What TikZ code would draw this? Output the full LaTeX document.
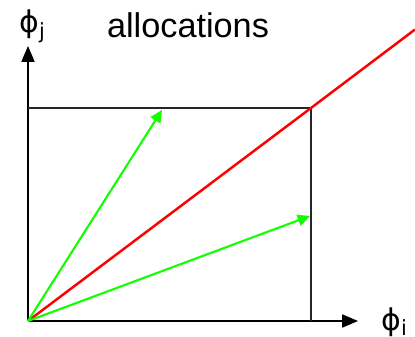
\documentclass[tikz,border=0pt]{standalone}
\usepackage{fontspec}
\setmainfont{Liberation Sans}
\newfontfamily\phifont{DejaVu Sans}
\usetikzlibrary{arrows.meta, positioning}

\begin{document}
\begin{tikzpicture}[
    x=0.02cm, y=-0.02cm,
    axis/.style={-{Triangle[length=9pt, width=7.5pt]}, line width=0.6pt, black},
    frame/.style={line width=0.7pt, black!85},
    share/.style={-{Triangle[length=7pt, width=6.5pt]}, line width=1.2pt, green!90!lime},
    fair/.style={line width=1.4pt, red},
    lbl/.style={font=\fontsize{19.5}{22}\selectfont, inner sep=0pt},
    phi/.style={font=\phifont\fontsize{17}{20}\selectfont, inner sep=0pt}
]
\useasboundingbox (0,0) rectangle (415,337);

% Axes
\coordinate (o) at (28,321);
\coordinate (xend) at (358,321);
\coordinate (yend) at (28,46);
\draw[axis] (o) -- (xend);
\draw[axis] (o) -- (yend);
\node[phi, anchor=base west] (phii) at (381,330) {ϕ\textsubscript{i}};
\node[phi, anchor=base west] (phij) at (19,33) {ϕ\textsubscript{j}};

% Title
\node[lbl, anchor=base] (title) at (188,38) {allocations};

% Capacity box
\coordinate (cap) at (311,108);
\draw[frame] (o -| cap) -- (cap) -- (o |- cap);

% Fairness line
\coordinate (fend) at (415,29.5);
\draw[fair] (o) -- (cap) -- (fend);

% Allocations
\coordinate (a1) at (162,110);
\coordinate (a2) at (310,216);
\draw[share] (o) -- (a1);
\draw[share] (o) -- (a2);

\end{tikzpicture}
\end{document}
